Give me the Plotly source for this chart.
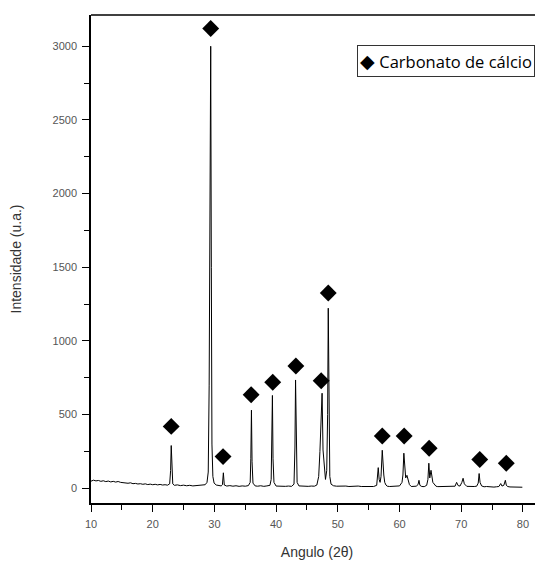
import plotly.graph_objects as go

# XRD profile: angle (2θ) and intensity (u.a.)
angle = [
    10.0, 10.4, 10.8, 11.2, 11.6, 12.0, 12.4, 12.8, 13.2, 13.6, 14.0, 14.4, 14.8,
    15.2, 15.6, 16.0, 16.4, 16.8, 17.2, 17.6, 18.0, 18.4, 18.8, 19.2, 19.6, 20.0,
    20.4, 20.8, 21.2, 21.6, 22.0, 22.4, 22.75, 22.9, 23.0, 23.1, 23.25, 23.5,
    24.0, 24.5, 25.0, 25.5, 26.0, 26.5, 27.0, 27.5, 28.0, 28.5, 28.8, 29.0, 29.15,
    29.25, 29.4, 29.5, 29.6, 29.75, 29.95, 30.3, 30.7, 31.1, 31.3, 31.45, 31.6,
    32.0, 32.5, 33.0, 33.5, 34.0, 34.5, 35.0, 35.5, 35.8, 35.9, 36.0, 36.1, 36.25,
    36.6, 37.0, 37.5, 38.0, 38.5, 39.0, 39.2, 39.3, 39.4, 39.5, 39.65, 40.0,
    40.5, 41.0, 41.5, 42.0, 42.5, 42.9, 43.05, 43.15, 43.25, 43.4, 43.7, 44.2,
    44.7, 45.2, 45.7, 46.2, 46.6, 46.9, 47.1, 47.3, 47.45, 47.6, 47.8, 48.0,
    48.2, 48.35, 48.45, 48.55, 48.7, 48.9, 49.3, 49.8, 50.3, 50.8, 51.3, 51.8,
    52.3, 52.8, 53.3, 53.8, 54.3, 54.8, 55.3, 55.8, 56.3, 56.55, 56.7, 56.85,
    57.0, 57.2, 57.45, 57.6, 57.8, 58.0, 58.4, 58.8, 59.2, 59.6, 60.0, 60.4,
    60.55, 60.7, 60.85, 61.0, 61.2, 61.4, 61.6, 61.9, 62.3, 62.7, 63.0, 63.15,
    63.3, 63.6, 64.0, 64.4, 64.6, 64.75, 64.9, 65.1, 65.4, 65.7, 65.9, 66.2,
    66.6, 67.0, 67.4, 67.8, 68.2, 68.6, 69.0, 69.25, 69.5, 69.8, 70.1, 70.3,
    70.5, 70.9, 71.3, 71.7, 72.1, 72.5, 72.75, 72.9, 73.05, 73.3, 73.7, 74.1,
    74.5, 74.9, 75.3, 75.7, 76.1, 76.4, 76.6, 76.9, 77.15, 77.3, 77.5, 77.9,
    78.3, 78.7, 79.1, 79.5, 79.9,
]
intensity = [
    48, 55, 50, 53, 47, 51, 45, 49, 43, 47, 42, 46, 40,
    38, 36, 34, 37, 31, 33, 29, 31, 27, 30, 25, 28, 24,
    27, 23, 26, 22, 24, 21, 30, 120, 290, 110, 30, 20,
    23, 18, 21, 17, 20, 16, 19, 17, 20, 24, 40, 110, 700,
    2000, 3000, 1500, 300, 80, 35, 22, 18, 16, 24, 105, 22,
    15, 18, 14, 17, 13, 16, 14, 18, 40, 200, 530, 180, 35,
    16, 14, 17, 13, 16, 20, 60, 250, 630, 200, 40, 15,
    13, 16, 13, 15, 13, 28, 280, 735, 260, 40, 16, 14,
    16, 13, 15, 14, 22, 80, 250, 420, 645, 260, 120, 60,
    120, 500, 1222, 420, 80, 28, 17, 14, 16, 13, 15, 12,
    14, 12, 15, 12, 13, 11, 14, 12, 20, 140, 60, 40,
    80, 258, 90, 40, 22, 14, 12, 14, 12, 15, 16, 40,
    90, 238, 110, 70, 88, 45, 25, 12, 11, 14, 25, 54,
    20, 12, 11, 20, 60, 170, 70, 122, 40, 25, 14, 11,
    12, 10, 12, 10, 11, 12, 14, 40, 18, 15, 40, 68,
    30, 13, 11, 9, 12, 14, 35, 100, 40, 16, 10, 12,
    9, 11, 8, 10, 12, 32, 15, 20, 54, 22, 12, 9,
    8, 10, 7, 8, 7,
]

# Calcite markers (◆)
mark_angle = [23.0, 29.4, 31.4, 35.95, 39.45, 43.2, 47.3, 48.45, 57.2, 60.75, 64.8, 73.0, 77.3]
mark_intensity = [420, 3120, 215, 635, 720, 830, 730, 1325, 355, 355, 272, 195, 170]

legend_label = "Carbonato de cálcio"
x_title = "Angulo (2θ)"
y_title = "Intensidade (u.a.)"

fig = go.Figure()
fig.add_trace(go.Scatter(
    x=angle, y=intensity, mode="lines",
    line=dict(color="black", width=1), showlegend=False, hoverinfo="skip",
))
fig.add_trace(go.Scatter(
    x=mark_angle, y=mark_intensity, mode="markers",
    marker=dict(symbol="diamond", size=13, color="black"),
    showlegend=False, name=legend_label,
))

tick_font = dict(family="Liberation Sans, Arial, sans-serif", size=11, color="#555555")
title_font = dict(family="Liberation Sans, Arial, sans-serif", size=14, color="#333333")

# The page body has an 8px margin; the figure is sized so the plot area lands
# at x 91..543, y 15..503 of the window.
fig.update_layout(
    width=535, height=552,
    margin=dict(l=83, r=0, t=7, b=57, autoexpand=False),
    paper_bgcolor="white", plot_bgcolor="white",
    xaxis=dict(
        range=[10, 83.25], tick0=10, dtick=10, automargin=False,
        ticks="outside", ticklen=7, tickwidth=1, tickcolor="black",
        minor=dict(ticks="outside", dtick=5, ticklen=5, tickwidth=1, tickcolor="black"),
        showline=True, linecolor="black", linewidth=1.5, showgrid=False, zeroline=False,
        tickfont=tick_font, ticklabelstandoff=3,
        title=dict(text=x_title, font=title_font, standoff=19),
    ),
    yaxis=dict(
        range=[-100, 3212], tick0=0, dtick=500, automargin=False,
        ticks="outside", ticklen=7, tickwidth=1, tickcolor="black",
        minor=dict(ticks="outside", dtick=250, ticklen=5, tickwidth=1, tickcolor="black"),
        showline=True, linecolor="black", linewidth=1.5, showgrid=False, zeroline=False,
        tickfont=tick_font, ticklabelstandoff=3,
        title=dict(text=y_title, font=title_font, standoff=30),
    ),
    shapes=[dict(type="line", xref="paper", yref="paper", x0=0, x1=1, y0=1, y1=1,
                 line=dict(color="black", width=1.5))],
    annotations=[dict(
        xref="paper", yref="paper", x=0.588, y=0.9385, xanchor="left", yanchor="top",
        text="<span style='font-size:19px'>◆</span> " + legend_label, showarrow=False,
        font=dict(family="Open Sans, Lato, sans-serif", size=16.5, color="black"),
        bordercolor="#333333", borderwidth=1, borderpad=2, bgcolor="white",
    )],
)

fig.write_html("out.html")
